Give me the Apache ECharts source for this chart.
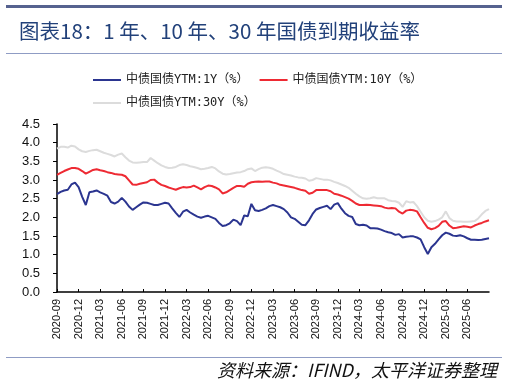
<!DOCTYPE html>
<html>
<head>
<meta charset="utf-8">
<script src="https://cdn.jsdelivr.net/npm/echarts@6/dist/echarts.min.js"></script>
<style>
html,body{margin:0;padding:0;background:#fff;}
#c{width:507px;height:385px;}
</style>
</head>
<body>
<div id="c"></div>
<script>
// Series names
var seriesNames = ['中债国债YTM:1Y（%）', '中债国债YTM:10Y（%）', '中债国债YTM:30Y（%）'];

// Category dates: semi-monthly observations 2020-09 .. 2025-08, plus last day
var dates = [];
(function () {
  var y = 2020, m = 9;
  while (y < 2025 || (y === 2025 && m <= 8)) {
    var mm = (m < 10 ? '0' : '') + m;
    dates.push(y + '-' + mm + '-01');
    dates.push(y + '-' + mm + '-16');
    m++; if (m > 12) { m = 1; y++; }
  }
  dates.push('2025-08-29');
})();

// 1Y yield (%)
var y1 = [
  2.62,2.68,2.72,2.74,2.88,2.93,2.81,2.55,2.33,2.67,2.69,2.72,
  2.67,2.63,2.58,2.41,2.37,2.42,2.52,2.42,2.29,2.20,2.27,2.34,
  2.40,2.39,2.36,2.33,2.33,2.36,2.39,2.37,2.24,2.12,2.01,2.15,
  2.20,2.13,2.07,2.02,1.99,2.02,2.04,2.00,1.96,1.85,1.77,1.79,
  1.84,1.94,1.90,1.79,2.05,2.03,2.36,2.19,2.17,2.20,2.24,2.30,
  2.33,2.30,2.27,2.22,2.13,2.00,1.96,1.88,1.80,1.79,1.92,2.09,
  2.21,2.25,2.28,2.31,2.22,2.34,2.38,2.23,2.11,2.04,2.01,1.82,
  1.79,1.80,1.78,1.71,1.71,1.70,1.67,1.63,1.60,1.58,1.53,1.55,
  1.46,1.48,1.49,1.49,1.46,1.41,1.20,1.02,1.20,1.29,1.41,1.52,
  1.59,1.56,1.51,1.50,1.52,1.49,1.44,1.40,1.40,1.39,1.40,1.42,
  1.44
];

// 10Y yield (%)
var y10 = [
  3.14,3.19,3.24,3.28,3.32,3.32,3.30,3.24,3.17,3.22,3.27,3.29,
  3.26,3.24,3.21,3.19,3.16,3.15,3.14,3.10,2.99,2.88,2.87,2.90,
  2.92,2.94,3.00,3.01,2.93,2.87,2.84,2.80,2.77,2.74,2.78,2.81,
  2.80,2.81,2.85,2.80,2.75,2.81,2.85,2.84,2.80,2.75,2.64,2.67,
  2.73,2.79,2.84,2.84,2.82,2.90,2.94,2.95,2.96,2.95,2.96,2.96,
  2.93,2.91,2.87,2.85,2.83,2.81,2.79,2.76,2.73,2.71,2.63,2.66,
  2.73,2.73,2.73,2.73,2.70,2.63,2.61,2.58,2.54,2.50,2.44,2.37,
  2.33,2.33,2.34,2.33,2.32,2.31,2.30,2.26,2.24,2.25,2.24,2.15,
  2.10,2.18,2.20,2.19,2.16,2.00,1.85,1.72,1.68,1.71,1.77,1.88,
  1.90,1.78,1.71,1.72,1.74,1.76,1.75,1.73,1.78,1.82,1.85,1.89,
  1.92
];

// 30Y yield (%)
var y30 = [
  3.84,3.89,3.89,3.87,3.92,3.90,3.82,3.77,3.75,3.78,3.80,3.81,
  3.77,3.73,3.70,3.67,3.63,3.68,3.71,3.61,3.52,3.47,3.46,3.47,
  3.48,3.48,3.59,3.52,3.45,3.39,3.35,3.32,3.33,3.35,3.40,3.42,
  3.40,3.37,3.35,3.32,3.29,3.30,3.32,3.35,3.31,3.23,3.17,3.15,
  3.16,3.18,3.20,3.21,3.24,3.29,3.31,3.24,3.29,3.33,3.34,3.33,
  3.30,3.25,3.21,3.16,3.14,3.12,3.09,3.07,3.06,3.04,2.98,3.00,
  3.05,3.03,3.01,3.01,2.99,2.95,2.92,2.88,2.84,2.79,2.71,2.63,
  2.56,2.51,2.50,2.51,2.54,2.51,2.51,2.51,2.46,2.44,2.43,2.39,
  2.28,2.43,2.40,2.41,2.30,2.15,2.00,1.91,1.88,1.90,1.94,2.00,
  2.16,1.98,1.91,1.89,1.89,1.88,1.88,1.89,1.90,1.97,2.08,2.17,
  2.22
];

// Y axis tick range
var yMin = 0, yMax = 4.5, yStep = 0.5;
var quarterMonths = ['03', '06', '09', '12'];

function isQuarterStart(idx, val) {
  var v = val || dates[idx];
  return v.slice(8) === '01' && quarterMonths.indexOf(v.slice(5, 7)) >= 0;
}

var chart = echarts.init(document.getElementById('c'), null, { renderer: 'canvas' });
var legendText = { fontSize: 12, color: '#222', fontFamily: '"DejaVu Sans Mono", "Noto Sans CJK SC", monospace' };

chart.setOption({
  animation: false,
  backgroundColor: '#fff',
  graphic: [
    { type: 'rect', shape: { x: 6, y: 5, width: 496, height: 3 }, style: { fill: '#56628f' } },
    { type: 'text', left: 19, top: 21, style: { text: '图表18：1 年、10 年、30 年国债到期收益率', fill: '#22417a', font: '20.5px "Noto Sans CJK SC", sans-serif' } },
    { type: 'rect', shape: { x: 6, y: 53, width: 496, height: 1 }, style: { fill: '#8f9cc4' } },
    { type: 'rect', shape: { x: 6, y: 357, width: 496, height: 1 }, style: { fill: '#8f9cc4' } },
    { type: 'text', right: 10, top: 361, style: { text: '资料来源：IFIND，太平洋证券整理', fill: '#111', font: 'italic 18px "Noto Sans CJK SC", sans-serif' } }
  ],
  legend: [
    {
      data: [seriesNames[0], seriesNames[1]],
      left: 88, top: 69, icon: 'rect', itemWidth: 28, itemHeight: 2, itemGap: 11,
      textStyle: legendText
    },
    {
      data: [seriesNames[2]],
      left: 88, top: 92, icon: 'rect', itemWidth: 28, itemHeight: 2,
      textStyle: legendText
    }
  ],
  grid: { left: 57, right: 18, top: 124, bottom: 93, containLabel: false },
  xAxis: {
    type: 'category',
    data: dates,
    boundaryGap: false,
    axisLine: { lineStyle: { color: '#000', width: 1.5 } },
    axisTick: { inside: true, length: 3, interval: isQuarterStart, lineStyle: { color: '#000' } },
    axisLabel: {
      interval: isQuarterStart,
      rotate: 90,
      margin: 7,
      fontSize: 11,
      color: '#111',
      fontFamily: 'Liberation Sans, Arial, sans-serif',
      formatter: function (v) { return v.slice(0, 7); }
    },
    splitLine: { show: false }
  },
  yAxis: {
    type: 'value',
    min: yMin, max: yMax, interval: yStep,
    axisLine: { show: true, lineStyle: { color: '#000', width: 1.5 } },
    axisTick: { show: true, length: 4, lineStyle: { color: '#000' } },
    axisLabel: {
      fontSize: 13, color: '#111', margin: 17,
      fontFamily: 'Liberation Sans, Arial, sans-serif',
      formatter: function (v) { return v.toFixed(1); }
    },
    splitLine: { show: false }
  },
  series: [
    { name: seriesNames[0], type: 'line', data: y1, showSymbol: false, symbol: 'none', lineStyle: { color: '#2b3590', width: 2 }, itemStyle: { color: '#2b3590' }, z: 3 },
    { name: seriesNames[1], type: 'line', data: y10, showSymbol: false, symbol: 'none', lineStyle: { color: '#ee2a33', width: 2 }, itemStyle: { color: '#ee2a33' }, z: 2 },
    { name: seriesNames[2], type: 'line', data: y30, showSymbol: false, symbol: 'none', lineStyle: { color: '#dcdcdc', width: 2 }, itemStyle: { color: '#dcdcdc' }, z: 1 }
  ]
});
</script>
</body>
</html>
